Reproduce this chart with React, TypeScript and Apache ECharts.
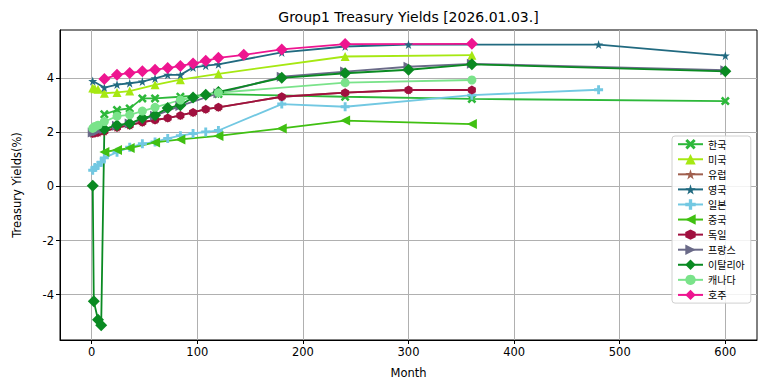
import React, { useEffect, useRef } from "react";
import * as echarts from "echarts";

// ---- data (months, yields %) ----
const koreaMonths = [12, 24, 36, 48, 60, 84, 120, 240, 360, 600];
const koreaYields = [2.67, 2.83, 2.89, 3.26, 3.26, 3.32, 3.42, 3.32, 3.24, 3.16];

const usMonths = [1, 3, 6, 12, 24, 36, 60, 84, 120, 240, 360];
const usYields = [3.64, 3.62, 3.6, 3.45, 3.48, 3.53, 3.76, 3.95, 4.17, 4.81, 4.86];

const euMonths = [1, 3, 6, 12, 24, 36, 48, 60, 72, 84, 96, 108, 120, 180, 240, 300, 360];
const euYields = [1.96, 1.98, 2.0, 2.04, 2.18, 2.27, 2.38, 2.46, 2.53, 2.63, 2.74, 2.86, 2.93, 3.32, 3.47, 3.57, 3.57];

const ukMonths = [1, 12, 24, 36, 48, 60, 72, 84, 96, 108, 120, 180, 240, 300, 480, 600];
const ukYields = [3.9, 3.66, 3.77, 3.82, 3.88, 4.0, 4.13, 4.13, 4.4, 4.47, 4.52, 4.96, 5.18, 5.25, 5.25, 4.84];

const jpMonths = [1, 3, 6, 9, 12, 24, 36, 48, 60, 72, 84, 96, 108, 120, 180, 240, 360, 480];
const jpYields = [0.6, 0.7, 0.78, 0.9, 1.06, 1.27, 1.45, 1.58, 1.65, 1.78, 1.88, 1.96, 2.02, 2.07, 3.05, 2.95, 3.38, 3.58];

const cnMonths = [12, 24, 36, 60, 84, 120, 180, 240, 360];
const cnYields = [1.28, 1.35, 1.42, 1.63, 1.74, 1.87, 2.15, 2.44, 2.31];

const deMonths = [1, 3, 6, 12, 24, 36, 48, 60, 72, 84, 96, 108, 120, 180, 240, 300, 360];
const deYields = [1.96, 1.98, 2.0, 2.04, 2.18, 2.27, 2.38, 2.46, 2.53, 2.63, 2.74, 2.86, 2.93, 3.32, 3.47, 3.57, 3.57];

const frMonths = [1, 3, 6, 12, 24, 36, 60, 84, 120, 180, 240, 300, 360, 600];
const frYields = [2.0, 2.02, 2.05, 2.12, 2.25, 2.33, 2.62, 2.98, 3.45, 4.06, 4.25, 4.43, 4.54, 4.3];

const itMonths = [1, 2, 6, 9, 12, 24, 36, 48, 60, 72, 84, 96, 108, 120, 180, 240, 300, 360, 600];
const itYields = [0.03, -4.25, -4.93, -5.13, 2.12, 2.27, 2.33, 2.53, 2.64, 2.9, 3.01, 3.29, 3.39, 3.5, 4.02, 4.19, 4.32, 4.52, 4.26];

const caMonths = [1, 2, 3, 6, 12, 24, 36, 48, 60, 84, 120, 240, 360];
const caYields = [2.15, 2.18, 2.22, 2.27, 2.4, 2.6, 2.65, 2.79, 2.93, 3.2, 3.47, 3.84, 3.94];

const auMonths = [12, 24, 36, 48, 60, 72, 84, 96, 108, 120, 144, 180, 240, 360];
const auYields = [3.98, 4.13, 4.2, 4.26, 4.32, 4.38, 4.46, 4.55, 4.65, 4.76, 4.87, 5.07, 5.27, 5.28];

const xTicks = [0, 100, 200, 300, 400, 500, 600];
const yTicks = [-4, -2, 0, 2, 4];

const titleText = "Group1 Treasury Yields [2026.01.03.]";

// ---- marker shapes ----
const SYM_X = "path://M20,0L50,30L80,0L100,20L70,50L100,80L80,100L50,70L20,100L0,80L30,50L0,20Z";
const SYM_STAR =
  "path://M50,0L61.17,34.63L97.55,34.55L68.07,55.87L79.39,90.45L50,69L20.61,90.45L31.93,55.87L2.45,34.55L38.83,34.63Z";
const SYM_PLUS = "path://M34,0H66V34H100V66H66V100H34V66H0V34H34Z";
const SYM_HEX = "path://M50,0L93.3,25L93.3,75L50,100L6.7,75L6.7,25Z";

type Def = {
  name: string;
  months: number[];
  yields: number[];
  color: string;
  symbol: string;
  size: number | number[];
  rotate?: number;
};

const defs: Def[] = [
  { name: "한국", months: koreaMonths, yields: koreaYields, color: "#2db83a", symbol: SYM_X, size: 9 },
  { name: "미국", months: usMonths, yields: usYields, color: "#a6e812", symbol: "triangle", size: 9 },
  { name: "유럽", months: euMonths, yields: euYields, color: "#a0604f", symbol: SYM_STAR, size: 9 },
  { name: "영국", months: ukMonths, yields: ukYields, color: "#216a80", symbol: SYM_STAR, size: 9 },
  { name: "일본", months: jpMonths, yields: jpYields, color: "#72c8e2", symbol: SYM_PLUS, size: 9 },
  { name: "중국", months: cnMonths, yields: cnYields, color: "#40c012", symbol: "triangle", size: 10, rotate: 90 },
  { name: "독일", months: deMonths, yields: deYields, color: "#a0103f", symbol: SYM_HEX, size: [8, 9] },
  { name: "프랑스", months: frMonths, yields: frYields, color: "#6a6a88", symbol: "triangle", size: 10, rotate: -90 },
  { name: "이탈리아", months: itMonths, yields: itYields, color: "#0a8a22", symbol: "diamond", size: 12 },
  { name: "캐나다", months: caMonths, yields: caYields, color: "#7ae38a", symbol: "circle", size: 9 },
  { name: "호주", months: auMonths, yields: auYields, color: "#ee1590", symbol: "diamond", size: 12 },
];

const FONT = "DejaVu Sans";

export default function App() {
  const ref = useRef<HTMLDivElement>(null);
  useEffect(() => {
    if (!ref.current) return;
    const chart = echarts.init(ref.current, undefined, { renderer: "svg" });
    const series = defs.map((d) => ({
      name: d.name,
      type: "line",
      data: d.months.map((m, i) => [m, d.yields[i]]),
      symbol: d.symbol,
      symbolSize: d.size,
      symbolRotate: d.rotate || 0,
      showSymbol: true,
      showAllSymbol: true,
      color: d.color,
      lineStyle: { color: d.color, width: 1.8 },
      itemStyle: { color: d.color, borderColor: d.color, borderWidth: 0 },
      emphasis: { disabled: true },
    }));
    chart.setOption({
      animation: false,
      backgroundColor: "#fff",
      grid: {
        left: 60,
        right: 10,
        top: 30,
        bottom: 51,
        show: true,
        borderColor: "#000",
        borderWidth: 1,
        backgroundColor: "transparent",
      },
      graphic: [
        {
          type: "text",
          x: 408.5,
          y: 17,
          style: {
            text: titleText,
            fontFamily: FONT,
            fontSize: 14,
            fill: "#000",
            textAlign: "center",
            textVerticalAlign: "middle",
          },
        },
      ],
      legend: {
        orient: "vertical",
        left: 672,
        top: 136,
        align: "left",
        padding: [3, 6, 3, 5],
        itemWidth: 25,
        itemHeight: 13,
        itemGap: 4.67,
        backgroundColor: "rgba(255,255,255,0.85)",
        borderColor: "#d0d0d0",
        borderWidth: 1,
        borderRadius: 3,
        lineStyle: { width: 2 },
        textStyle: { fontFamily: "Noto Sans CJK KR", fontSize: 10, color: "#000" },
        data: defs.map((d) => d.name),
      },
      xAxis: {
        type: "value",
        min: -30,
        max: 630,
        name: "Month",
        nameLocation: "middle",
        nameGap: 27,
        nameTextStyle: { fontFamily: FONT, fontSize: 11.5, color: "#000" },
        axisLine: { show: true, onZero: false, lineStyle: { color: "#000", width: 1 } },
        axisTick: { show: true, length: 4, lineStyle: { color: "#000" }, customValues: xTicks },
        axisLabel: {
          customValues: xTicks,
          fontFamily: FONT,
          fontSize: 11.5,
          color: "#000",
          margin: 6,
        },
        splitLine: { show: true, lineStyle: { color: "#b0b0b0", width: 1 } },
      },
      yAxis: {
        type: "value",
        min: -5.68,
        max: 5.79,
        name: "Treasury Yields(%)",
        nameLocation: "middle",
        nameGap: 37,
        nameTextStyle: { fontFamily: FONT, fontSize: 11.5, color: "#000" },
        axisLine: { show: true, onZero: false, lineStyle: { color: "#000", width: 1 } },
        axisTick: { show: true, length: 4, lineStyle: { color: "#000" }, customValues: yTicks },
        axisLabel: {
          customValues: yTicks,
          fontFamily: FONT,
          fontSize: 11.5,
          color: "#000",
          margin: 6,
        },
        splitLine: { show: true, lineStyle: { color: "#b0b0b0", width: 1 } },
      },
      series,
    });
    return () => chart.dispose();
  }, []);
  return (
    <div
      ref={ref}
      style={{ position: "fixed", left: 0, top: 0, width: 767, height: 391, background: "#fff" }}
    />
  );
}
